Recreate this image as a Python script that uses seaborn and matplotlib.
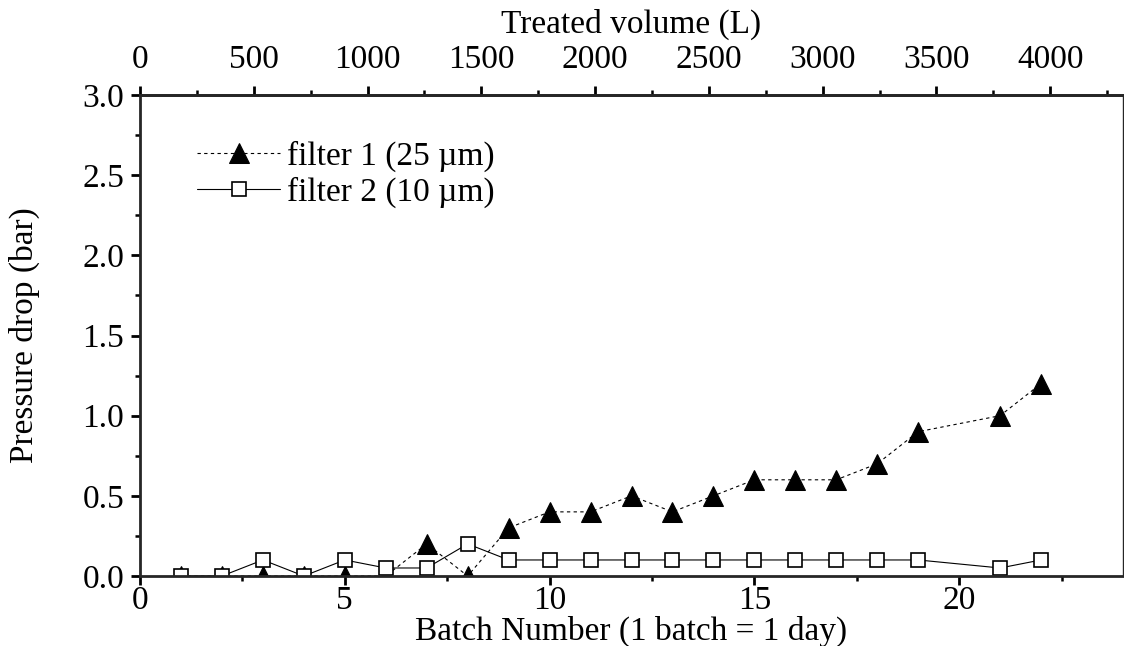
import numpy as np
import pandas as pd
import matplotlib
matplotlib.use("Agg")
import matplotlib.pyplot as plt
from matplotlib.ticker import MultipleLocator, FormatStrFormatter
import seaborn as sns

# ---- data ----
batch_f1 = [1, 2, 3, 4, 5, 6, 7, 8, 9, 10, 11, 12, 13, 14, 15, 16, 17, 18, 19, 21, 22]
dp_f1 = [0.0, 0.0, 0.0, 0.0, 0.0, 0.0, 0.2, 0.0, 0.3, 0.4, 0.4, 0.5, 0.4, 0.5,
         0.6, 0.6, 0.6, 0.7, 0.9, 1.0, 1.2]
batch_f2 = [1, 2, 3, 4, 5, 6, 7, 8, 9, 10, 11, 12, 13, 14, 15, 16, 17, 18, 19, 21, 22]
dp_f2 = [0.0, 0.0, 0.1, 0.0, 0.1, 0.05, 0.05, 0.2, 0.1, 0.1, 0.1, 0.1, 0.1, 0.1,
         0.1, 0.1, 0.1, 0.1, 0.1, 0.05, 0.1]
label_f1 = "filter 1 (25 µm)"
label_f2 = "filter 2 (10 µm)"
litres_per_batch = 180.0
top_ticks = [0, 500, 1000, 1500, 2000, 2500, 3000, 3500, 4000]
bottom_ticks = [0, 5, 10, 15, 20]
y_ticks = [0.0, 0.5, 1.0, 1.5, 2.0, 2.5, 3.0]

df1 = pd.DataFrame({"batch": batch_f1, "dp": dp_f1})
df2 = pd.DataFrame({"batch": batch_f2, "dp": dp_f2})

sns.set_theme(style="ticks")
plt.rcParams['font.family'] = ['Liberation Serif', 'DejaVu Serif']
plt.rcParams['text.color'] = 'black'
plt.rcParams['axes.labelcolor'] = 'black'
FS = 24

fig = plt.figure(figsize=(11.24, 6.46), dpi=100)
ax = fig.add_axes([140 / 1124, 1 - 576 / 646, 983 / 1124, (576 - 95) / 646])

sns.lineplot(data=df1, x="batch", y="dp", ax=ax, color="black", lw=0.8,
             linestyle=(0, (3, 3)), marker="^", markersize=15,
             markerfacecolor="black", markeredgecolor="black", label=label_f1,
             sort=False, estimator=None)
sns.lineplot(data=df2, x="batch", y="dp", ax=ax, color="black", lw=0.8,
             linestyle="-", marker="s", markersize=10, markeredgewidth=1.2,
             markerfacecolor="white", markeredgecolor="black", label=label_f2,
             sort=False, estimator=None)

ax.set_xlim(0, 24)
ax.set_ylim(0, 3.0)
ax.set_xticks(bottom_ticks)
ax.xaxis.set_minor_locator(MultipleLocator(2.5))
ax.set_yticks(y_ticks)
ax.yaxis.set_minor_locator(MultipleLocator(0.25))
ax.yaxis.set_major_formatter(FormatStrFormatter("%.1f"))

for s in ["left", "bottom", "top"]:
    ax.spines[s].set_linewidth(2)
ax.spines["right"].set_linewidth(1)
ax.spines["right"].set_visible(True)
ax.spines["top"].set_visible(True)

ax.tick_params(axis="both", which="major", direction="out", length=6.5, width=2,
               labelsize=FS, colors="black", pad=0)
ax.tick_params(axis="both", which="minor", direction="out", length=3.5, width=1.8,
               colors="black")
ax.tick_params(axis="x", which="both", top=False)
ax.tick_params(axis="y", which="both", right=False)
ax.tick_params(axis="y", which="major", pad=5)

ax.set_xlabel("Batch Number (1 batch = 1 day)", fontsize=FS, labelpad=0, color="black")
ax.set_ylabel("Pressure drop (bar)", fontsize=FS, labelpad=30, color="black")

secax = ax.secondary_xaxis("top", functions=(lambda b: b * litres_per_batch,
                                             lambda v: v / litres_per_batch))
secax.set_xticks(top_ticks)
secax.xaxis.set_minor_locator(MultipleLocator(250))
secax.tick_params(which="major", direction="out", length=6.5, width=2,
                  labelsize=FS, colors="black", pad=8)
secax.tick_params(which="minor", direction="out", length=3.5, width=1.8, colors="black")
secax.spines["top"].set_linewidth(2)
secax.set_xlabel("Treated volume (L)", fontsize=FS, labelpad=8, color="black")

leg = ax.legend(loc="upper left", bbox_to_anchor=(0.058, 0.905), frameon=False,
                fontsize=FS, handlelength=2.5, handletextpad=0.2, labelspacing=0.15,
                borderpad=0, borderaxespad=0, numpoints=1)
for t in leg.get_texts():
    t.set_color("black")

fig.savefig("out.png", dpi=100)
